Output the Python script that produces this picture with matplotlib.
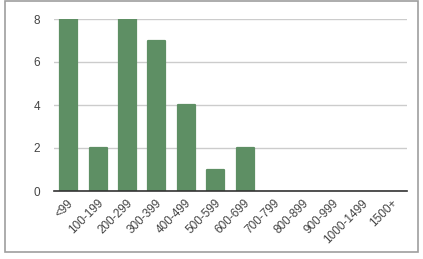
import numpy as np
import matplotlib.pyplot as plt
from matplotlib.patches import Rectangle
from matplotlib.transforms import ScaledTranslation

plt.rcParams['font.family'] = ['Liberation Sans', 'DejaVu Sans']

categories = ['<99', '100-199', '200-299', '300-399', '400-499', '500-599',
              '600-699', '700-799', '800-899', '900-999', '1000-1499', '1500+']
counts = [8, 2, 8, 7, 4, 1, 2, 0, 0, 0, 0, 0]
yticks = [0, 2, 4, 6, 8]

bar_color = '#5e8f64'

fig = plt.figure(figsize=(4.23, 2.59), dpi=100)
ax = fig.add_axes([54 / 423, 1 - 191 / 259, 353 / 423, 172 / 259])

x = np.arange(len(categories))
bars = ax.bar(x, counts, width=0.58, color=bar_color, edgecolor=bar_color,
              linewidth=1.6, zorder=3)
for b, v in zip(bars, counts):
    b.set_joinstyle('round')
    if v == 0:
        b.set_linewidth(0)

ax.set_xlim(-0.5, len(categories) - 0.5)
ax.set_ylim(0, 8)
ax.set_yticks(yticks)
ax.set_yticklabels([str(t) for t in yticks])
ax.set_xticks(x)

ax.grid(axis='y', color='#cccccc', linewidth=1, zorder=0)
ax.set_axisbelow(True)
for s in ['top', 'right', 'left']:
    ax.spines[s].set_visible(False)
ax.spines['bottom'].set_color('#333333')
ax.spines['bottom'].set_linewidth(1.2)
ax.spines['bottom'].set_zorder(4)
ax.tick_params(axis='both', length=0, labelsize=8.5, colors='#444444')
ax.tick_params(axis='y', pad=10)
ax.tick_params(axis='x', pad=7.5)

ax.set_xticklabels(categories, rotation=45, ha='right', va='center',
                   rotation_mode='anchor')
shift = ScaledTranslation(3 / 100, 0, fig.dpi_scale_trans)
for lbl in ax.get_xticklabels():
    lbl.set_transform(lbl.get_transform() + shift)

# outer chart border
fig.patches.append(Rectangle((5 / 423, 1 - 252 / 259), 413 / 423, 251 / 259,
                             transform=fig.transFigure, fill=False,
                             ec='#9e9e9e', lw=1.2, zorder=0))

fig.savefig('out.png', dpi=100)
